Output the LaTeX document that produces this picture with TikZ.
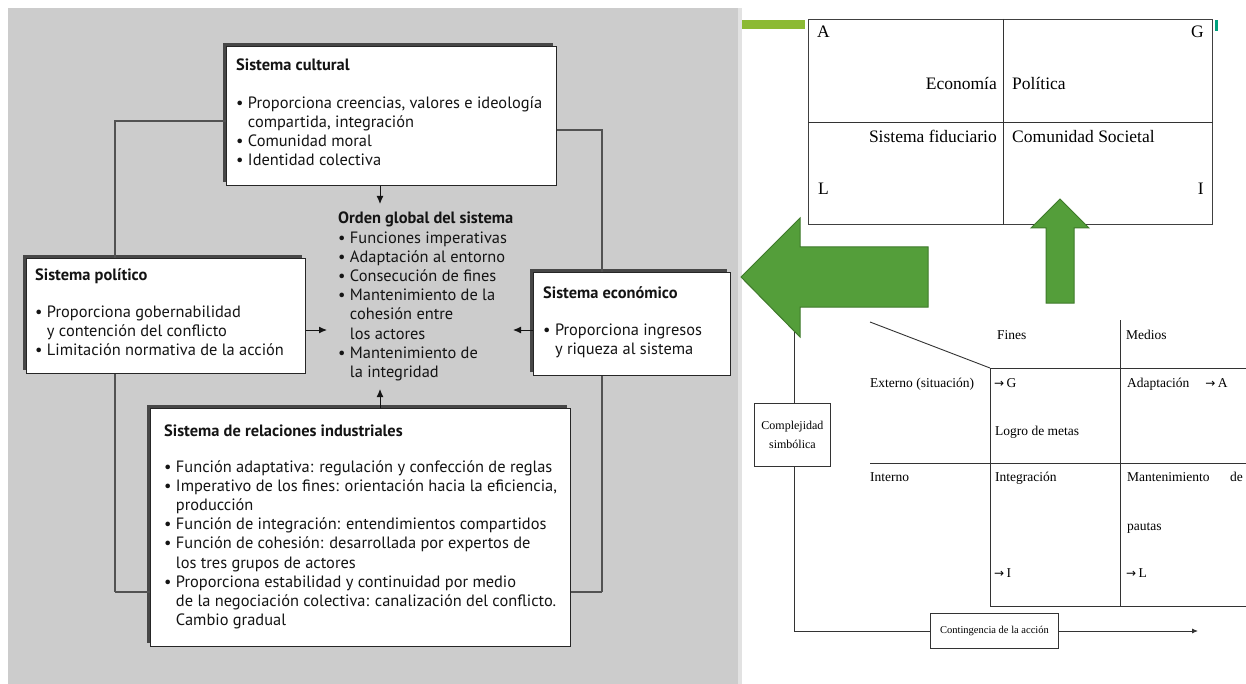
\documentclass[tikz,border=0pt]{standalone}
\usepackage{fontspec}
\setmainfont{Liberation Serif}
\newfontfamily\boxfont{PT Sans}
\newfontfamily\arrowfont{DejaVu Sans}
\usetikzlibrary{shadows,arrows.meta}

\definecolor{panelgray}{RGB}{204,204,204}
\definecolor{edgegray}{RGB}{226,226,226}
\definecolor{inkdark}{RGB}{20,20,20}
\definecolor{arrowgreen}{RGB}{84,158,58}
\definecolor{arrowedge}{RGB}{62,122,42}
\definecolor{barolive}{RGB}{140,186,52}
\definecolor{markteal}{RGB}{0,160,125}

\newcommand\itembul{\textbullet\ }
\newcommand\itemgap{\hphantom{\textbullet\ }}
\newcommand\toarrow{{\arrowfont\fontsize{12}{14}\selectfont →}}

\begin{document}
\begin{tikzpicture}[x=1pt,y=-1pt,
  sbox/.style={draw=black!85, line width=0.8pt, fill=white, inner sep=0pt,
    anchor=north west,
    general shadow={fill=black!72, shadow xshift=-3pt, shadow yshift=3pt}},
  btxt/.style={font=\boxfont\fontsize{16.4}{19.2}\selectfont, text=inkdark,
    align=left, inner sep=0pt, anchor=north west},
  conn/.style={draw=black!68, line width=1.1pt},
  tip/.style={-{Latex[length=8pt,width=7pt]}, draw=inkdark, line width=1pt},
  cell/.style={font=\fontsize{17.5}{20}\selectfont, inner sep=0pt},
  small/.style={font=\fontsize{13.5}{16}\selectfont, inner sep=0pt, anchor=base west},
  tline/.style={draw=black!80, line width=0.9pt},
  rbox/.style={draw=black!80, line width=0.9pt, fill=white, inner sep=0pt,
    anchor=north west, align=center},
  bigarrow/.style={fill=arrowgreen, draw=arrowedge, line width=1pt, line join=miter}
]
\useasboundingbox (0,0) rectangle (1246,684);
\fill[white] (0,0) rectangle (1246,684);

% ---------- left panel: industrial relations system ----------
\fill[panelgray] (8,8) rectangle (738,684);
\fill[edgegray] (738,8) rectangle (742,684);

% frame connectors (drawn first, boxes sit on top)
\coordinate (lx) at (115,121);
\coordinate (rx) at (602,130);
\coordinate (lb) at (115,592);
\coordinate (rb) at (602,592);

\node[sbox, minimum width=330pt, minimum height=139pt] (cult) at (226,46) {};
\node[sbox, minimum width=279pt, minimum height=115pt] (pol)  at (26,258) {};
\node[sbox, minimum width=197pt, minimum height=103pt] (eco)  at (533,272) {};

\draw[conn] (cult.west |- lx) -- (lx) -- (lx |- pol.north);
\draw[conn] (cult.east |- rx) -- (rx) -- (rx |- eco.north);
\draw[conn] (lx |- pol.south) -- (lb);
\draw[conn] (rx |- eco.south) -- (rb);

\node[sbox, minimum width=420pt, minimum height=238pt] (ri) at (150,408) {};
\draw[conn] (lb) -- (ri.west |- lb);
\draw[conn] (rb) -- (ri.east |- rb);

\node[btxt] (cultT) at (236,59) {\textbf{Sistema cultural}\\[18pt]
  \itembul Proporciona creencias, valores e ideología\\
  \itemgap compartida, integración\\
  \itembul Comunidad moral\\
  \itembul Identidad colectiva};

\node[btxt] (polT) at (35,268) {\textbf{Sistema político}\\[18pt]
  \itembul Proporciona gobernabilidad\\
  \itemgap y contención del conflicto\\
  \itembul Limitación normativa de la acción};

\node[btxt] (ecoT) at (543,286) {\textbf{Sistema económico}\\[18pt]
  \itembul Proporciona ingresos\\
  \itemgap y riqueza al sistema};

\node[btxt] (ord) at (338,212) {\textbf{Orden global del sistema}\\
  \itembul Funciones imperativas\\
  \itembul Adaptación al entorno\\
  \itembul Consecución de fines\\
  \itembul Mantenimiento de la\\
  \itemgap cohesión entre\\
  \itemgap los actores\\
  \itembul Mantenimiento de\\
  \itemgap la integridad};

\node[btxt] (riT) at (164,425) {\textbf{Sistema de relaciones industriales}\\[16pt]
  \itembul Función adaptativa: regulación y confección de reglas\\
  \itembul Imperativo de los fines: orientación hacia la eficiencia,\\
  \itemgap producción\\
  \itembul Función de integración: entendimientos compartidos\\
  \itembul Función de cohesión: desarrollada por expertos de\\
  \itemgap los tres grupos de actores\\
  \itembul Proporciona estabilidad y continuidad por medio\\
  \itemgap de la negociación colectiva: canalización del conflicto.\\
  \itemgap Cambio gradual};

% arrows into the global order
\coordinate (tipTop) at (380,204);
\coordinate (tipLeft) at (327,330);
\coordinate (tipRight) at (513,330);
\coordinate (tipBot) at (380,389);
\draw[tip] (cult.south -| tipTop) -- (tipTop);
\draw[tip] (pol.east |- tipLeft) -- (tipLeft);
\draw[tip] (eco.west |- tipRight) -- (tipRight);
\draw[tip] (ri.north -| tipBot) -- (tipBot);

% ---------- right panel: AGIL scheme ----------
\fill[barolive] (742,20) rectangle (805,29);
\fill[markteal] (1215,20) rectangle (1218,31);

\node[draw=black!75, line width=1pt, minimum width=404pt, minimum height=205pt,
  anchor=north west, inner sep=0pt] (agil) at (808,19) {};
\coordinate (agx) at (1003,122);
\draw[tline] (agil.north -| agx) -- (agil.south -| agx);
\draw[tline] (agil.west |- agx) -- (agil.east |- agx);

\node[cell, anchor=base west] (qA) at (817,38) {A};
\node[cell, anchor=base east] (qG) at (1204,38) {G};
\node[cell, anchor=base east] (qEco) at (997,90) {Economía};
\node[cell, anchor=base west] (qPol) at (1012,90) {Política};
\node[cell, anchor=base east] (qFid) at (997,143) {Sistema fiduciario};
\node[cell, anchor=base west] (qCom) at (1012,143) {Comunidad Societal};
\node[cell, anchor=base west] (qL) at (818,195) {L};
\node[cell, anchor=base east] (qI) at (1204,195) {I};

% action-space table
\draw[tline] (870,322) -- (990,368);
\draw[tline] (990,368) -- (1246,368);
\draw[tline] (870,463) -- (1246,463);
\draw[tline] (990,606) -- (1246,606);
\draw[tline] (990,368) -- (990,606);
\draw[tline] (1120,320) -- (1120,606);

\node[small] (hFin) at (997,339) {Fines};
\node[small] (hMed) at (1126,339) {Medios};
\node[small] (rExt) at (870,387) {Externo (situación)};
\node[small] (cG) at (994,387) {\toarrow\,G};
\node[small] (cA) at (1127,387) {Adaptación\hspace{16pt}\toarrow\,A};
\node[small] (cMet) at (995,435) {Logro de metas};
\node[small] (rInt) at (870,481) {Interno};
\node[small] (cInt) at (995,481) {Integración};
\node[small] (cMan) at (1127,481) {Mantenimiento};
\node[small, anchor=base east] (cDe) at (1243,481) {de};
\node[small] (cPau) at (1127,530) {pautas};
\node[small] (cI) at (994,577) {\toarrow\,I};
\node[small] (cL) at (1126,577) {\toarrow\,L};

% axes
\coordinate (ax0) at (794,300);
\coordinate (ax1) at (794,631);
\coordinate (axEnd) at (1198,631);
\node[rbox, minimum width=76pt, minimum height=63pt,
  font=\fontsize{12}{15}\selectfont] (cplx) at (754,403)
  {Complejidad\\[4pt]simbólica};
\node[rbox, minimum width=128pt, minimum height=35pt,
  font=\fontsize{10.5}{13}\selectfont] (cont) at (930,613)
  {Contingencia de la acción};
\draw[tline] (ax0) -- (cplx.north -| ax0);
\draw[tline] (cplx.south -| ax0) -- (ax1) -- (cont.west |- ax1);
\draw[tline, -{Latex[length=6pt,width=5pt]}] (cont.east |- ax1) -- (axEnd);

% big block arrows
\fill[bigarrow] (741,277) -- (800,218) -- (800,247) -- (928,247) -- (928,307)
  -- (800,307) -- (800,337) -- cycle;
\fill[bigarrow] (1060,199) -- (1089,228) -- (1074,228) -- (1074,303)
  -- (1046,303) -- (1046,228) -- (1031,228) -- cycle;
\end{tikzpicture}
\end{document}
